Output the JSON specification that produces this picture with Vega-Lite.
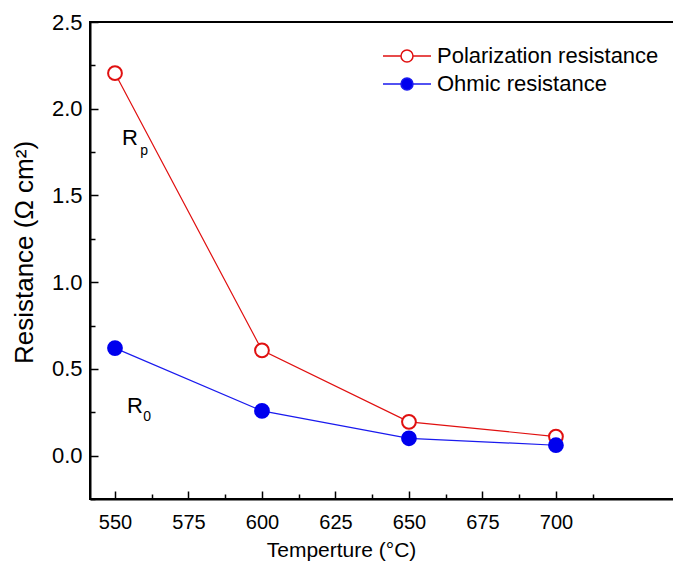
{
  "$schema": "https://vega.github.io/schema/vega-lite/v6.json",
  "width": 585,
  "height": 477,
  "autosize": {"type": "none"},
  "padding": {"left": 90, "top": 22, "right": 0, "bottom": 63},
  "background": "white",
  "datasets": {
    "pts": [
      {"T": 550, "R": 2.205, "series": "Polarization resistance"},
      {"T": 600, "R": 0.607, "series": "Polarization resistance"},
      {"T": 650, "R": 0.195, "series": "Polarization resistance"},
      {"T": 700, "R": 0.11, "series": "Polarization resistance"},
      {"T": 550, "R": 0.62, "series": "Ohmic resistance"},
      {"T": 600, "R": 0.258, "series": "Ohmic resistance"},
      {"T": 650, "R": 0.1, "series": "Ohmic resistance"},
      {"T": 700, "R": 0.06, "series": "Ohmic resistance"}
    ],
    "main": [
      {"T": 552.4, "R": 1.79, "label": "R"},
      {"T": 554.1, "R": 0.246, "label": "R"}
    ],
    "sub": [
      {"T": 558.6, "R": 1.735, "label": "p"},
      {"T": 559.6, "R": 0.2, "label": "0"}
    ],
    "minor": [
      {"T": 562.5, "R": 0.25}
    ]
  },
  "resolve": {"scale": {"x": "independent", "y": "independent"}, "axis": {"x": "independent", "y": "independent"}},
  "config": {
    "view": {"stroke": "black", "strokeWidth": 2},
    "font": "Liberation Sans",
    "axis": {
      "domainColor": "black",
      "domainWidth": 2,
      "tickColor": "black",
      "tickWidth": 1.5,
      "labelColor": "black",
      "titleColor": "black",
      "labelFont": "Liberation Sans",
      "titleFont": "Liberation Sans",
      "grid": false,
      "titleFontWeight": "normal"
    },
    "legend": {
      "labelFont": "Liberation Sans",
      "title": null,
      "orient": "none",
      "legendX": 306,
      "legendY": 23,
      "padding": 0,
      "symbolType": "M-4,0H-1M1,0H4M1,0A1,1,0,1,1,-1,0A1,1,0,1,1,1,0",
      "symbolSize": 144,
      "symbolStrokeWidth": 1.5,
      "labelFontSize": 22,
      "labelOffset": 19,
      "labelLimit": 400,
      "labelColor": "black",
      "rowPadding": 6
    }
  },
  "layer": [
    {
      "data": {"name": "pts"},
      "mark": {"type": "line", "strokeWidth": 1.2},
      "encoding": {
        "x": {
          "field": "T", "type": "quantitative",
          "scale": {"domain": [541.5, 740.5], "nice": false, "zero": false},
          "axis": {
            "orient": "bottom",
            "values": [550, 575, 600, 625, 650, 675, 700],
            "tickSize": -8,
            "labelFontSize": 20,
            "labelPadding": 21,
            "title": "Temperture (°C)",
            "titleFontSize": 21,
            "titleBaseline": "alphabetic",
            "titleAlign": "center",
            "titleAnchor": "start",
            "titleX": 251,
            "titleY": 57,
            "labelFlush": false,
            "format": "d"
          }
        },
        "y": {
          "field": "R", "type": "quantitative",
          "scale": {"domain": [-0.25, 2.5], "nice": false, "zero": false},
          "axis": {
            "orient": "left",
            "values": [0, 0.5, 1, 1.5, 2, 2.5],
            "tickSize": -8,
            "labelFontSize": 22,
            "labelPadding": 16,
            "format": ".1f",
            "labelFlush": false,
            "title": "Resistance (Ω cm²)",
            "titleFontSize": 26,
            "titleBaseline": "alphabetic",
            "titleAngle": -90,
            "titleAlign": "center",
            "titleAnchor": "start",
            "titleX": -58,
            "titleY": 230
          }
        },
        "color": {
          "field": "series", "type": "nominal",
          "scale": {"domain": ["Polarization resistance", "Ohmic resistance"], "range": ["#e01010", "#1a1aee"]},
          "legend": {"symbolType": "M-4,0H-1M1,0H4M1,0A1,1,0,1,1,-1,0A1,1,0,1,1,1,0"}
        }
      }
    },
    {
      "data": {"name": "pts"},
      "mark": {"type": "point", "shape": "circle", "size": 190, "strokeWidth": 2, "opacity": 1},
      "encoding": {
        "x": {"field": "T", "type": "quantitative", "scale": {"domain": [541.5, 740.5], "nice": false, "zero": false}, "axis": null},
        "y": {"field": "R", "type": "quantitative", "scale": {"domain": [-0.25, 2.5], "nice": false, "zero": false}, "axis": null},
        "stroke": {
          "field": "series", "type": "nominal",
          "scale": {"domain": ["Polarization resistance", "Ohmic resistance"], "range": ["#e01010", "#0000ee"]},
          "legend": {"symbolType": "M-4,0H-1M1,0H4M1,0A1,1,0,1,1,-1,0A1,1,0,1,1,1,0"}
        },
        "fill": {
          "field": "series", "type": "nominal",
          "scale": {"domain": ["Polarization resistance", "Ohmic resistance"], "range": ["white", "#0000ee"]},
          "legend": {"symbolType": "M-4,0H-1M1,0H4M1,0A1,1,0,1,1,-1,0A1,1,0,1,1,1,0"}
        }
      }
    },
    {
      "data": {"name": "minor"},
      "mark": {"type": "point", "opacity": 0},
      "encoding": {
        "x": {
          "field": "T", "type": "quantitative",
          "scale": {"domain": [541.5, 740.5], "nice": false, "zero": false},
          "axis": {
            "orient": "bottom",
            "values": [562.5, 587.5, 612.5, 637.5, 662.5, 687.5, 712.5],
            "tickSize": -5,
            "labels": false,
            "domain": false,
            "title": null
          }
        },
        "y": {
          "field": "R", "type": "quantitative",
          "scale": {"domain": [-0.25, 2.5], "nice": false, "zero": false},
          "axis": {
            "orient": "left",
            "values": [-0.25, 0.25, 0.75, 1.25, 1.75, 2.25],
            "tickSize": -5,
            "labels": false,
            "domain": false,
            "title": null
          }
        }
      }
    },
    {
      "data": {"name": "main"},
      "mark": {"type": "text", "fontSize": 22, "align": "left", "baseline": "alphabetic", "font": "Liberation Sans", "color": "black"},
      "encoding": {
        "x": {"field": "T", "type": "quantitative", "scale": {"domain": [541.5, 740.5], "nice": false, "zero": false}, "axis": null},
        "y": {"field": "R", "type": "quantitative", "scale": {"domain": [-0.25, 2.5], "nice": false, "zero": false}, "axis": null},
        "text": {"field": "label"}
      }
    },
    {
      "data": {"name": "sub"},
      "mark": {"type": "text", "fontSize": 14, "align": "left", "baseline": "alphabetic", "font": "Liberation Sans", "color": "black"},
      "encoding": {
        "x": {"field": "T", "type": "quantitative", "scale": {"domain": [541.5, 740.5], "nice": false, "zero": false}, "axis": null},
        "y": {"field": "R", "type": "quantitative", "scale": {"domain": [-0.25, 2.5], "nice": false, "zero": false}, "axis": null},
        "text": {"field": "label"}
      }
    }
  ]
}
